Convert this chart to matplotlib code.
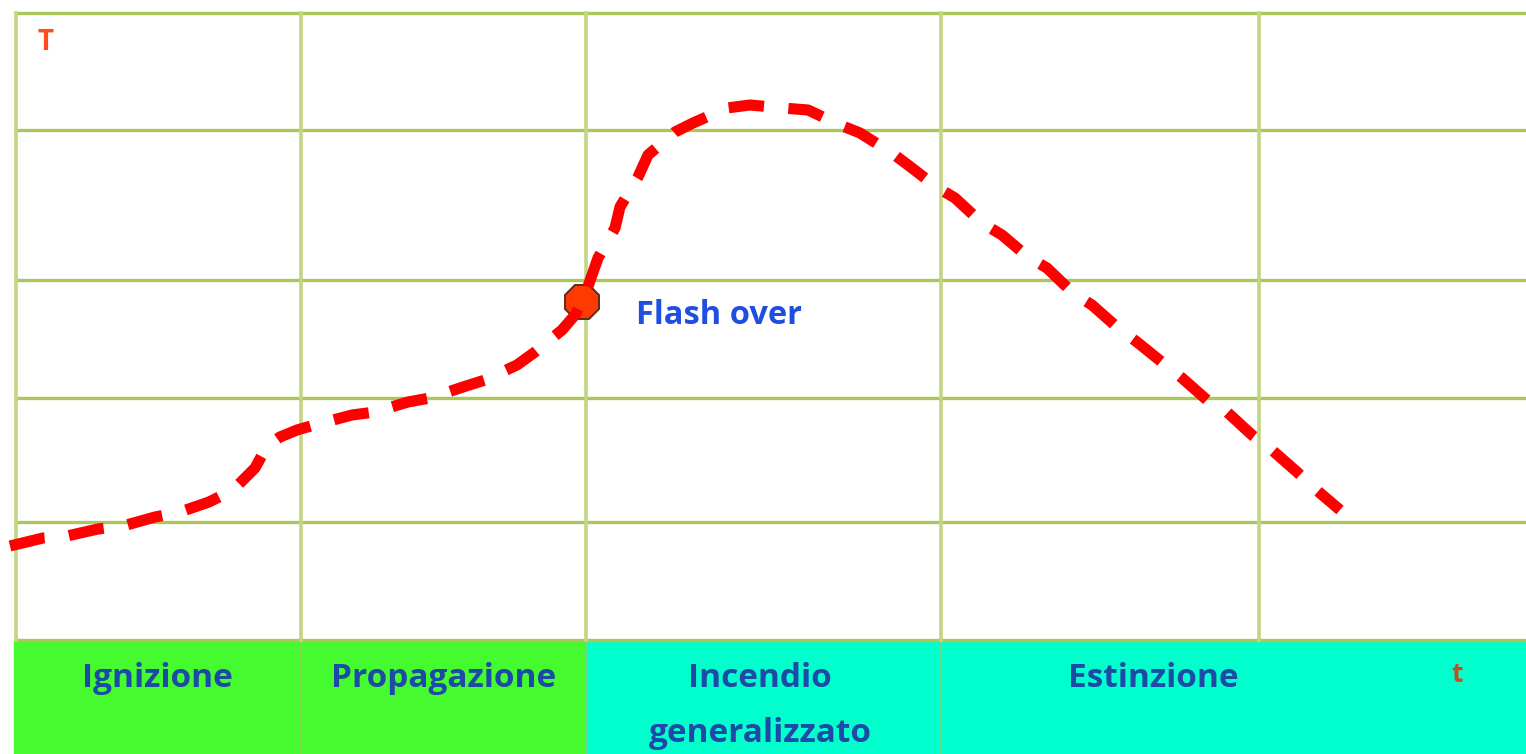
import numpy as np
import matplotlib.pyplot as plt
from matplotlib.patches import Rectangle

# curve (x = time, y = temperature, same units as the grid)
t = [10, 43, 67, 98, 123, 155, 180, 209, 233, 245, 255, 267, 280, 297, 318, 352,
     375, 408, 430, 463, 485, 517, 535, 562, 575, 585, 598, 615, 620, 638, 648,
     675, 693, 727, 750, 783, 808, 840, 860, 892, 908, 938, 955, 982, 1002, 1028,
     1047, 1073, 1092, 1118, 1137, 1163, 1182, 1207, 1227, 1252, 1272, 1297, 1313, 1340]
T = [94, 102, 104, 111, 114, 123, 128, 138, 150, 162, 172, 194, 203, 210, 216, 225,
     228, 238, 242, 253, 260, 275, 288, 310, 325, 345, 382, 412, 433, 463, 485,
     508, 517, 532, 535, 532, 530, 515, 507, 487, 475, 452, 442, 417, 405, 383,
     372, 347, 335, 312, 298, 277, 262, 240, 228, 205, 190, 168, 153, 130]

flash_t, flash_T = 582, 338

grid_x = [16, 301, 586, 941, 1259]
grid_y = [0, 118, 242, 360, 510, 627]

phases = ["Ignizione", "Propagazione", "Incendio\ngeneralizzato", "Estinzione"]
phase_edges = [14, 301, 586, 941, 1526]
phase_colors = ["#45fa2e", "#45fa2e", "#00ffcc", "#00ffcc"]
label_x = [157, 444, 760, 1153]

fig = plt.figure(figsize=(15.26, 7.54), dpi=100)
ax = fig.add_axes([0, 0, 1, 1])
ax.set_xlim(0, 1526)
ax.set_ylim(-114, 640)
ax.axis('off')

# phase band along the bottom
for i, name in enumerate(phases):
    x0, x1 = phase_edges[i], phase_edges[i + 1]
    ax.add_patch(Rectangle((x0, -114), x1 - x0, 114, color=phase_colors[i], zorder=1))
    for k, line in enumerate(name.split('\n')):
        ax.text(label_x[i], -47 - 55 * k, line, ha='center', va='baseline', fontsize=24,
                fontweight='bold', family='Open Sans', color='#1c4aa6', zorder=5)
for x in phase_edges[1:-1]:
    ax.plot([x, x], [-114, 0], color='#a8c45a', lw=1.5, alpha=0.6, zorder=2)

# grid
for y in grid_y:
    ax.plot([16, 1526], [y, y], color='#adc65a', lw=2.4, zorder=2)
for x in grid_x:
    ax.plot([x, x], [0, 627], color='#c2d583', lw=2.6, zorder=2)

ax.plot(flash_t, flash_T, marker='8', ms=27, mfc='#ff3a00', mec='#5a2d1c', mew=1.4, zorder=3)
ax.plot(t, T, color='red', lw=8, dashes=(3.2, 2.2), zorder=4)

ax.text(636, 325, "Flash over", fontsize=23.5, fontweight='bold', family='Open Sans',
        color='#1f4fe0', va='center', zorder=5)
ax.text(45, 598, "T", fontsize=20, fontweight='bold', family='Open Sans', color='#ff4d1a',
        ha='center', va='center')
ax.text(1457, -35, "t", fontsize=19, fontweight='bold', family='Open Sans', color='#c84a1e',
        ha='center', va='center')

plt.savefig('out.png', dpi=100)
